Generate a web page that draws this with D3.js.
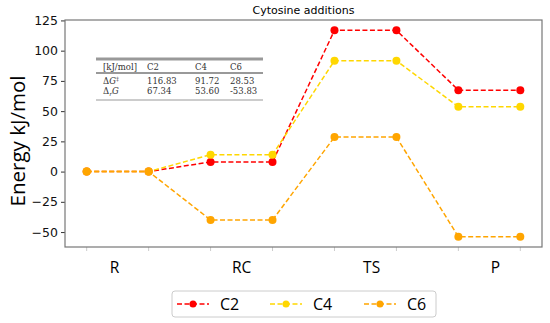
<!DOCTYPE html>
<html>
<head>
<meta charset="utf-8">
<script src="https://cdn.jsdelivr.net/npm/d3@7"></script>
<style>
  body { margin: 0; background: #fff; }
  svg { display: block; }
</style>
</head>
<body>
<div id="chart"></div>
<script>
// Data
const steps = [0, 1, 2, 3, 4, 5, 6, 7];
const stageLabels = ["R", "RC", "TS", "P"];
const stagePos = [0.45, 2.5, 4.6, 6.6];
const yTicks = [-50, -25, 0, 25, 50, 75, 100, 125];
const c2 = [0, 0, 8, 8, 116.83, 116.83, 67.34, 67.34];
const c4 = [0, 0, 14, 14, 91.72, 91.72, 53.60, 53.60];
const c6 = [0, 0, -40, -40, 28.53, 28.53, -53.83, -53.83];
const seriesNames = ["C2", "C4", "C6"];
const seriesColors = ["#ff0000", "#ffd700", "#ffa500"];
const tableHeader = ["[kJ/mol]", "C2", "C4", "C6"];
// row label: [symbol, variable, script, script position]
const tableLabels = [["\u0394", "G", "\u2021", "sup"], ["\u0394", "G", "r", "sub"]];
const tableRows = [
    ["116.83", "91.72", "28.53"],
    ["67.34", "53.60", "-53.83"]
];

const W = 550, H = 323;
const margin = { top: 20, right: 8, bottom: 76, left: 65 },
    width = W - margin.left - margin.right,
    height = H - margin.top - margin.bottom;

const svgRoot = d3.select("#chart").append("svg")
    .attr("width", W)
    .attr("height", H);

const svg = svgRoot.append("g")
    .attr("transform", "translate(" + margin.left + "," + margin.top + ")");

// Scales (5% padding like matplotlib)
const x = d3.scaleLinear().domain([-0.35, 7.35]).range([0, width]);
const y = d3.scaleLinear().domain([-62.36, 125.36]).range([height, 0]);

// Title
svg.append("text")
    .attr("x", width / 2)
    .attr("y", -6)
    .attr("text-anchor", "middle")
    .style("font-family", "DejaVu Sans")
    .style("font-size", "11px")
    .text("Cytosine additions");

// Y axis
svg.append("g")
    .call(d3.axisLeft(y).tickValues(yTicks).tickSize(4).tickFormat(d => d < 0 ? "\u2212" + Math.abs(d) : d))
    .call(g => g.select(".domain").remove())
    .call(g => g.selectAll("text")
        .style("font-family", "DejaVu Sans")
        .style("font-size", "12.5px")
        .attr("fill", "#111"))
    .call(g => g.selectAll("line").attr("stroke", "#333"));

// X ticks (marks at each step, labels at stage middles)
svg.append("g")
    .attr("transform", "translate(0," + height + ")")
    .selectAll("line")
    .data(steps)
    .join("line")
    .attr("x1", d => x(d)).attr("x2", d => x(d))
    .attr("y1", 0).attr("y2", 4)
    .attr("stroke", "#ccc");

svg.append("g")
    .selectAll("text")
    .data(stageLabels)
    .join("text")
    .attr("x", (d, i) => x(stagePos[i]))
    .attr("y", height + 26)
    .attr("text-anchor", "middle")
    .style("font-family", "Open Sans")
    .style("font-size", "15.5px")
    .text(d => d);

// Y label
svgRoot.append("text")
    .attr("transform", "translate(25," + 141 + ") rotate(-90)")
    .attr("text-anchor", "middle")
    .style("font-family", "Open Sans")
    .style("font-size", "20.5px")
    .text("Energy kJ/mol");

// Lines
const allSeries = [c2, c4, c6];
const line = d3.line().x((d, i) => x(steps[i])).y(d => y(d));
allSeries.forEach((s, k) => {
    svg.append("path")
        .datum(s)
        .attr("fill", "none")
        .attr("stroke", seriesColors[k])
        .attr("stroke-width", 1.5)
        .attr("stroke-dasharray", "5,2.5")
        .attr("d", line);
});
allSeries.forEach((s, k) => {
    svg.selectAll(".pt" + k)
        .data(s)
        .join("circle")
        .attr("class", "pt" + k)
        .attr("cx", (d, i) => x(steps[i]))
        .attr("cy", d => y(d))
        .attr("r", 4)
        .attr("fill", seriesColors[k]);
});

// Frame
svg.append("rect")
    .attr("width", width)
    .attr("height", height)
    .attr("fill", "none")
    .attr("stroke", "#777")
    .attr("stroke-width", 1.2);

// Table
const tbl = svgRoot.append("g").attr("transform", "translate(96,59)");
const colX = [7, 51, 99, 134];
const tw = 167;
tbl.append("line").attr("x1", 0).attr("x2", tw).attr("y1", 0).attr("y2", 0)
    .attr("stroke", "#999").attr("stroke-width", 3);
tbl.append("line").attr("x1", 0).attr("x2", tw).attr("y1", 14).attr("y2", 14)
    .attr("stroke", "#999").attr("stroke-width", 2);
tbl.append("line").attr("x1", 0).attr("x2", tw).attr("y1", 41).attr("y2", 41)
    .attr("stroke", "#999").attr("stroke-width", 1.2);
const serif = "DejaVu Serif";
tbl.selectAll(".hd")
    .data(tableHeader)
    .join("text")
    .attr("class", "hd")
    .attr("x", (d, i) => colX[i])
    .attr("y", 10.5)
    .style("font-family", serif)
    .style("font-size", "8.5px")
    .attr("fill", "#333")
    .text(d => d);
tableRows.forEach((row, r) => {
    const ry = 25 + r * 10;
    const lab = tableLabels[r];
    const t = tbl.append("text")
        .attr("x", colX[0]).attr("y", ry)
        .style("font-family", serif)
        .style("font-size", "8.5px")
        .attr("fill", "#333");
    t.append("tspan").text(lab[0]);
    if (lab[3] === "sub") {
        t.append("tspan").attr("dy", 2).style("font-size", "6px").style("font-style", "italic").text(lab[2]);
        t.append("tspan").attr("dy", -2).style("font-style", "italic").text(lab[1]);
    } else {
        t.append("tspan").style("font-style", "italic").text(lab[1]);
        t.append("tspan").attr("dy", -3).style("font-size", "6px").text(lab[2]);
    }
    tbl.selectAll(".row" + r)
        .data(row)
        .join("text")
        .attr("class", "row" + r)
        .attr("x", (d, i) => colX[i + 1])
        .attr("y", ry)
        .style("font-family", serif)
        .style("font-size", "8.5px")
        .attr("fill", "#333")
        .text(d => d);
});

// Legend
const lg = svgRoot.append("g").attr("transform", "translate(172,291)");
lg.append("rect")
    .attr("width", 264).attr("height", 26).attr("rx", 3)
    .attr("fill", "#fff").attr("stroke", "#ccc");
const lgX = [5, 98, 192];
seriesNames.forEach((name, k) => {
    const g = lg.append("g").attr("transform", "translate(" + lgX[k] + ",13)");
    g.append("line").attr("x1", 0).attr("x2", 32).attr("y1", 0).attr("y2", 0)
        .attr("stroke", seriesColors[k]).attr("stroke-width", 1.5)
        .attr("stroke-dasharray", "5,2.5");
    g.append("circle").attr("cx", 16).attr("cy", 0).attr("r", 3.5).attr("fill", seriesColors[k]);
    g.append("text").attr("x", 43).attr("y", 6)
        .style("font-family", "Open Sans").style("font-size", "16px")
        .text(name);
});
</script>
</body>
</html>
